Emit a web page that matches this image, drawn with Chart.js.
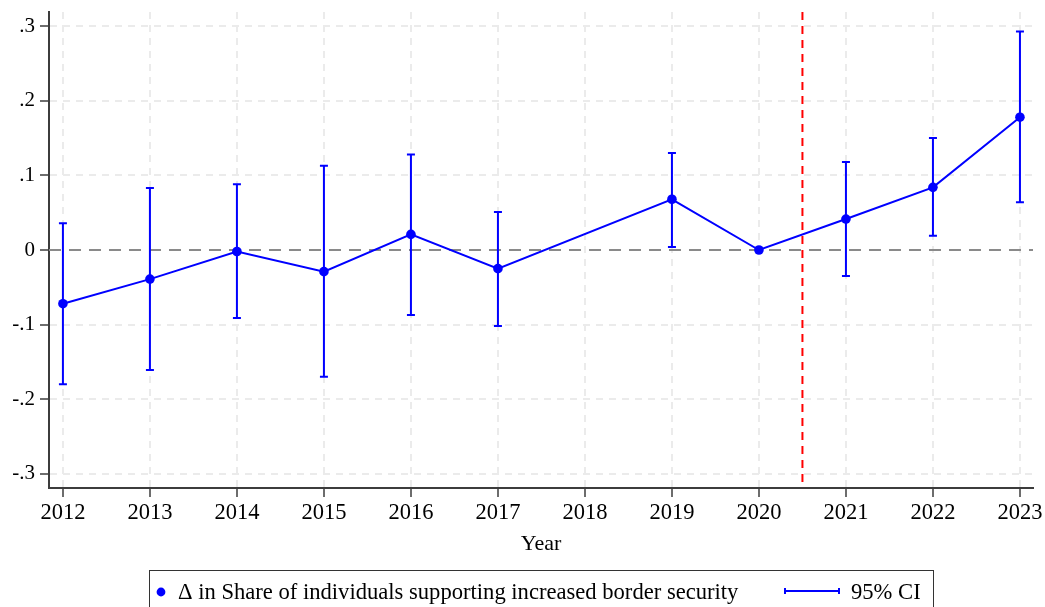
<!DOCTYPE html>
<html>
<head>
<meta charset="utf-8">
<title>Event study: border security support</title>
<script src="https://cdn.jsdelivr.net/npm/chart.js@4"></script>
<style>
  html, body { margin: 0; padding: 0; background: #ffffff; }
  canvas { display: block; }
</style>
</head>
<body>
<canvas id="chart" width="1045" height="607"></canvas>
<script>
// Survey years with an estimate (2018 has no wave; 2020 is the reference year)
const years = [2012, 2013, 2014, 2015, 2016, 2017, 2019, 2020, 2021, 2022, 2023];
// Point estimates of the change in share supporting increased border security
const estimates = [-0.072, -0.039, -0.002, -0.029, 0.021, -0.025, 0.068, 0, 0.0415, 0.084, 0.178];
// 95% confidence interval bounds (none for the reference year)
const ciLow  = [-0.180, -0.161, -0.091, -0.170, -0.087, -0.102, 0.004, null, -0.035, 0.019, 0.064];
const ciHigh = [ 0.036,  0.083,  0.088,  0.113,  0.128,  0.051, 0.130, null,  0.118, 0.150, 0.293];

// Axis ticks
const xTickYears = [2012, 2013, 2014, 2015, 2016, 2017, 2018, 2019, 2020, 2021, 2022, 2023];
const yTickValues = [-0.3, -0.2, -0.1, 0, 0.1, 0.2, 0.3];
const yTickLabels = ['-.3', '-.2', '-.1', '0', '.1', '.2', '.3'];

// Treatment timing marker
const eventLine = 2020.5;

// Text
const seriesLabel = '\u0394 in Share of individuals supporting increased border security';
const ciLabel = '95% CI';
const xTitle = 'Year';

const BLUE = '#0000ff';
const RED = '#ff0000';
const AXIS = '#3c3c3c';
const GRID = '#ebebeb';
const SERIF = '"Liberation Serif", "Times New Roman", "DejaVu Serif", serif';

// Zero line and the dashed red event line
const referenceLines = {
  id: 'referenceLines',
  beforeDatasetsDraw(chart) {
    const { ctx, chartArea, scales: { x, y } } = chart;
    ctx.save();
    // horizontal zero line
    const y0 = y.getPixelForValue(0);
    ctx.strokeStyle = '#8a8a8a';
    ctx.lineWidth = 2;
    ctx.setLineDash([12, 8]);
    ctx.beginPath();
    ctx.moveTo(chartArea.left, y0);
    ctx.lineTo(chartArea.right, y0);
    ctx.stroke();
    // vertical event line
    const xe = x.getPixelForValue(eventLine);
    ctx.strokeStyle = RED;
    ctx.lineWidth = 2;
    ctx.setLineDash([8, 6]);
    ctx.beginPath();
    ctx.moveTo(xe, chartArea.top);
    ctx.lineTo(xe, chartArea.bottom);
    ctx.stroke();
    ctx.restore();
  }
};

// Capped confidence-interval bars
const errorBars = {
  id: 'errorBars',
  afterDatasetsDraw(chart) {
    const { ctx, scales: { x, y } } = chart;
    const cap = 4;
    ctx.save();
    ctx.strokeStyle = BLUE;
    ctx.lineWidth = 2;
    ctx.setLineDash([]);
    years.forEach((yr, i) => {
      if (ciLow[i] === null || ciHigh[i] === null) return;
      const px = x.getPixelForValue(yr);
      const lo = y.getPixelForValue(ciLow[i]);
      const hi = y.getPixelForValue(ciHigh[i]);
      ctx.beginPath();
      ctx.moveTo(px, lo); ctx.lineTo(px, hi);
      ctx.moveTo(px - cap, lo); ctx.lineTo(px + cap, lo);
      ctx.moveTo(px - cap, hi); ctx.lineTo(px + cap, hi);
      ctx.stroke();
    });
    ctx.restore();
  }
};

// Boxed legend below the plot
const boxedLegend = {
  id: 'boxedLegend',
  afterDraw(chart) {
    const { ctx, chartArea } = chart;
    const cx = (chartArea.left + chartArea.right) / 2;
    const left = cx - 392, right = cx + 392;
    const top = 570;
    const midY = 592;
    ctx.save();
    ctx.strokeStyle = '#333333';
    ctx.lineWidth = 1;
    ctx.strokeRect(left + 0.5, top + 0.5, right - left, 60);

    // series marker
    ctx.fillStyle = BLUE;
    ctx.beginPath();
    ctx.arc(left + 12, midY, 4.4, 0, Math.PI * 2);
    ctx.fill();

    ctx.font = '22.6px ' + SERIF;
    ctx.fillStyle = '#000000';
    ctx.textBaseline = 'middle';
    ctx.textAlign = 'left';
    ctx.fillText(seriesLabel, left + 29, midY + 1);

    // CI key: horizontal bar with caps
    const kx0 = left + 636, kx1 = left + 690;
    ctx.strokeStyle = BLUE;
    ctx.lineWidth = 2;
    ctx.beginPath();
    ctx.moveTo(kx0, midY - 1); ctx.lineTo(kx1, midY - 1);
    ctx.moveTo(kx0, midY - 4); ctx.lineTo(kx0, midY + 2);
    ctx.moveTo(kx1, midY - 4); ctx.lineTo(kx1, midY + 2);
    ctx.stroke();

    ctx.fillStyle = '#000000';
    ctx.fillText(ciLabel, left + 702, midY + 1);
    ctx.restore();
  }
};

new Chart(document.getElementById('chart'), {
  type: 'line',
  data: {
    datasets: [{
      label: seriesLabel,
      data: years.map((yr, i) => ({ x: yr, y: estimates[i] })),
      borderColor: BLUE,
      backgroundColor: BLUE,
      borderWidth: 2,
      pointRadius: 4.8,
      pointHoverRadius: 4.8,
      pointBackgroundColor: BLUE,
      pointBorderWidth: 0,
      tension: 0,
      fill: false
    }]
  },
  options: {
    responsive: false,
    devicePixelRatio: 1,
    animation: false,
    events: [],
    layout: { padding: { top: 12, right: 12, bottom: 44, left: 0 } },
    plugins: {
      legend: { display: false },
      tooltip: { enabled: false },
      title: { display: false }
    },
    scales: {
      x: {
        type: 'linear',
        min: 2011.84,
        max: 2023.15,
        afterBuildTicks(scale) { scale.ticks = xTickYears.map(v => ({ value: v })); },
        afterFit(scale) {
          scale.height = 75;
          scale.paddingLeft = 0;
          scale.paddingRight = 0;
        },
        ticks: {
          autoSkip: false,
          maxRotation: 0,
          padding: 3,
          color: '#000000',
          font: { family: SERIF, size: 22.5 },
          callback: v => String(v)
        },
        grid: {
          color: GRID,
          lineWidth: 2,
          tickColor: AXIS,
          tickLength: 9,
          tickWidth: 1.5
        },
        border: { display: true, color: AXIS, width: 2, dash: [7, 6] },
        title: {
          display: true,
          text: xTitle,
          color: '#000000',
          font: { family: SERIF, size: 22 },
          padding: { top: 0, bottom: 6 }
        }
      },
      y: {
        type: 'linear',
        min: -0.319,
        max: 0.319,
        afterBuildTicks(scale) { scale.ticks = yTickValues.map(v => ({ value: v })); },
        afterFit(scale) {
          scale.width = 49;
          scale.paddingTop = 0;
          scale.paddingBottom = 0;
        },
        ticks: {
          padding: 5,
          color: '#000000',
          font: { family: SERIF, size: 21 },
          callback: v => {
            const k = yTickValues.findIndex(t => Math.abs(t - v) < 1e-9);
            return k >= 0 ? yTickLabels[k] : '';
          }
        },
        grid: {
          color: ctx => (ctx.tick && Math.abs(ctx.tick.value) < 1e-9) ? 'rgba(0,0,0,0)' : GRID,
          lineWidth: 2,
          tickColor: AXIS,
          tickLength: 9,
          tickWidth: 1.5
        },
        border: { display: true, color: AXIS, width: 2, dash: [7, 6] }
      }
    }
  },
  plugins: [referenceLines, errorBars, boxedLegend]
});
</script>
</body>
</html>
